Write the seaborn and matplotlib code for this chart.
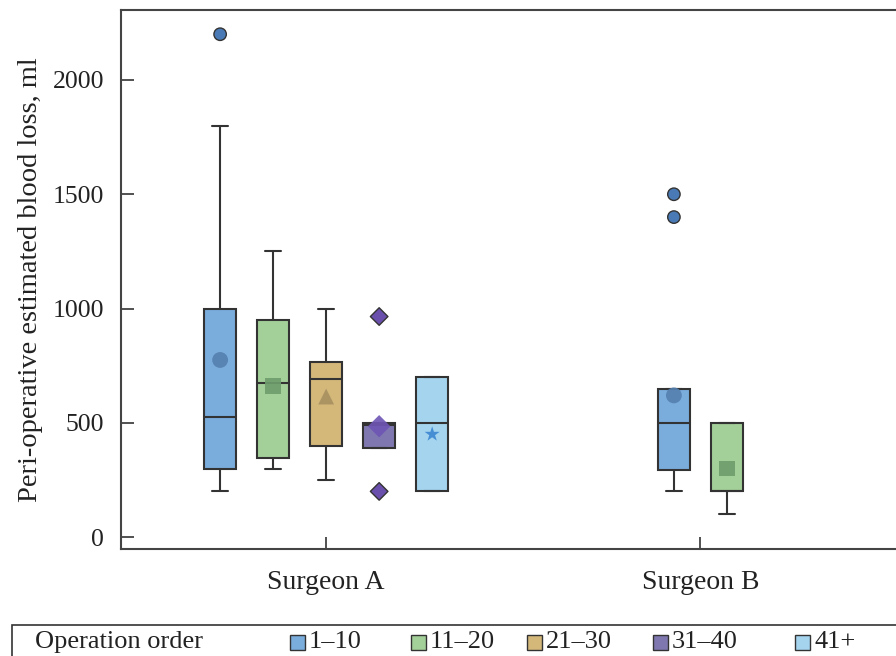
import numpy as np
import pandas as pd
import matplotlib.pyplot as plt
from matplotlib.patches import Rectangle
import seaborn as sns

# Categories
surgeons = ['Surgeon A', 'Surgeon B']
orders = ['1–10', '11–20', '21–30', '31–40', '41+']

# Peri-operative blood loss (ml) per group
a_1_10 = [200, 250, 300, 400, 525, 700, 1000, 1800, 2200]
a_11_20 = [300, 320, 345, 500, 675, 800, 950, 1100, 1250]
a_21_30 = [250, 300, 400, 600, 690, 700, 765, 900, 1000]
a_31_40 = [200, 390, 390, 450, 490, 500, 500, 500, 965]
a_41 = [200, 200, 200, 400, 500, 600, 700, 700, 700]
b_1_10 = [200, 250, 295, 400, 500, 600, 650, 1400, 1500]
b_11_20 = [100, 200, 200, 200, 200, 300, 500, 500, 500]

# group means (drawn as markers)
mean_a = [775, 660, 615, 485, 450]
mean_b = [620, 300]

groups = {
    'Surgeon A': [a_1_10, a_11_20, a_21_30, a_31_40, a_41],
    'Surgeon B': [b_1_10, b_11_20],
}
means = {'Surgeon A': mean_a, 'Surgeon B': mean_b}

box_colors = {'1–10': '#7aacdc', '11–20': '#a3cf99', '21–30': '#d3b87a',
              '31–40': '#7f78b0', '41+': '#a4d4ee'}
mean_colors = {'1–10': '#5580b0', '11–20': '#6e9e6c', '21–30': '#a89060',
               '31–40': '#6e55b5', '41+': '#3b87d2'}
mean_markers = {'1–10': 'o', '11–20': 's', '21–30': '^', '31–40': 'D', '41+': '*'}
flier_colors = {'1–10': '#4a7ab5', '11–20': '#6e9e6c', '21–30': '#a89060',
                '31–40': '#6a50ac', '41+': '#3b87d2'}
flier_markers = {'1–10': 'o', '11–20': 's', '21–30': '^', '31–40': 'D', '41+': '*'}

# build long tables; each surgeon's boxes are centred on its tick
centers = {'Surgeon A': 0.0, 'Surgeon B': 7.06}
rows, mean_rows, flier_rows = [], [], []
for s in surgeons:
    n = len(groups[s])
    for i, vals in enumerate(groups[s]):
        pos = centers[s] + i - (n - 1) / 2
        o = orders[i]
        for v in vals:
            rows.append({'pos': pos, 'order': o, 'value': v})
        mean_rows.append({'pos': pos, 'order': o, 'value': means[s][i]})
        q1, q3 = np.percentile(vals, [25, 75])
        iqr = q3 - q1
        for v in vals:
            if v < q1 - 1.5 * iqr or v > q3 + 1.5 * iqr:
                flier_rows.append({'pos': pos, 'order': o, 'value': v})
df = pd.DataFrame(rows)
df_mean = pd.DataFrame(mean_rows)
df_flier = pd.DataFrame(flier_rows)

sns.set_theme(style='ticks')
plt.rcParams['font.family'] = ['Liberation Serif', 'DejaVu Serif']

fig, ax = plt.subplots(figsize=(8.96, 6.56), dpi=100)
ax.set_position([121 / 896, 1 - 549 / 656, 1 - 121 / 896, (549 - 10) / 656])

sns.boxplot(data=df, x='pos', y='value', hue='order', hue_order=orders,
            palette=box_colors, native_scale=True, dodge=False, width=0.6,
            saturation=1, linecolor='#333333', linewidth=1.5,
            showfliers=False, legend=False, ax=ax)

sns.scatterplot(data=df_mean, x='pos', y='value', hue='order', style='order',
                hue_order=orders, style_order=orders, palette=mean_colors,
                markers=mean_markers, s=130, linewidth=0, alpha=0.9,
                legend=False, zorder=5, ax=ax)

sns.scatterplot(data=df_flier, x='pos', y='value', hue='order', style='order',
                hue_order=orders, style_order=orders, palette=flier_colors,
                markers=flier_markers, s=80, edgecolor='#333333', linewidth=1,
                legend=False, zorder=5, ax=ax)

ax.set_xlim(-3.87, 10.75)
ax.set_ylim(-52, 2306)
ax.set_xticks([centers[s] for s in surgeons])
ax.set_xticklabels(surgeons, fontsize=20)
ax.set_yticks([0, 500, 1000, 1500, 2000])
ax.tick_params(axis='y', direction='in', length=9, width=1.2, color='#333333',
               labelsize=18.5, pad=12, labelcolor='#222222')
ax.tick_params(axis='x', direction='in', length=9, width=1.2, color='#333333',
               labelsize=20, pad=15, labelcolor='#222222')
ax.set_xlabel('')
ax.set_ylabel('Peri-operative estimated blood loss, ml', fontsize=20.5,
              color='#222222', labelpad=7)
for side in ['left', 'bottom', 'top']:
    ax.spines[side].set_color('#444444')
    ax.spines[side].set_linewidth(1.5)
ax.spines['right'].set_visible(False)

# legend strip along the bottom, cut by the figure edge
fig.add_artist(Rectangle((12 / 896, -0.1), 1.2, 0.1 + 1 - 625 / 656,
                         transform=fig.transFigure, fill=False,
                         edgecolor='#333333', linewidth=1.2))
ly = 1 - 642 / 656
fig.text(35 / 896, ly, 'Operation order', fontsize=19, va='center', color='#222222')
for o, x in zip(orders, [290, 411, 527, 653, 795]):
    fig.add_artist(Rectangle((x / 896, ly - 7.5 / 656), 15 / 896, 15 / 656,
                             transform=fig.transFigure, facecolor=box_colors[o],
                             edgecolor='#333333', linewidth=1))
    fig.text((x + 19) / 896, ly, o, fontsize=19, va='center', color='#222222')

plt.savefig('out.png', dpi=100)
plt.close()
